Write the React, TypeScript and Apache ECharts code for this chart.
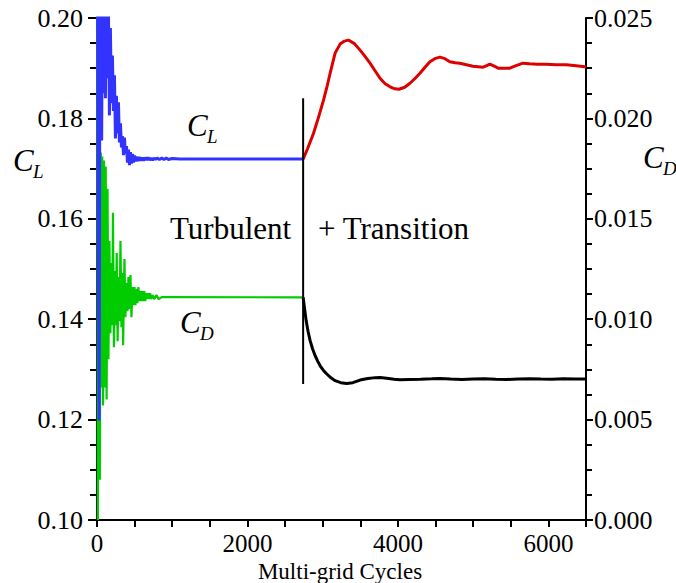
import React, { useEffect, useRef } from "react";
import * as echarts from "echarts";

// ---- Data ----
const clTurbCycles = [0, 15, 28, 40, 52, 62, 75, 88, 100, 112, 125, 138, 150, 165, 178, 192, 205, 218, 232, 245, 258, 272, 285, 298, 312, 325, 338, 352, 365, 378, 392, 405, 418, 432, 445, 458, 472, 485, 498, 512, 525, 540, 560, 580, 600, 620, 640, 660, 680, 700, 720, 740, 760, 780, 800, 830, 860, 890, 920, 950, 1000, 1100, 1400, 2000, 2740];
const clTurbValues = [0.25, 0.16, 0.1198, 0.21, 0.23, 0.1756, 0.22, 0.185, 0.215, 0.184, 0.212, 0.188, 0.205, 0.1806, 0.198, 0.183, 0.1925, 0.1815, 0.1886, 0.176, 0.1845, 0.177, 0.1832, 0.1752, 0.179, 0.1742, 0.1765, 0.1727, 0.1762, 0.173, 0.1745, 0.1712, 0.1738, 0.1707, 0.1733, 0.171, 0.1729, 0.1712, 0.1726, 0.1714, 0.1724, 0.1715, 0.1723, 0.1716, 0.1722, 0.1716, 0.1722, 0.1717, 0.1722, 0.1717, 0.1721, 0.1717, 0.1721, 0.1718, 0.1721, 0.1718, 0.1721, 0.1718, 0.1721, 0.1718, 0.172, 0.1719, 0.1719, 0.1719, 0.1719];

const clTransCycles = [2740, 2800, 2877, 2940, 3010, 3060, 3099, 3165, 3231, 3290, 3342, 3420, 3497, 3560, 3629, 3700, 3762, 3830, 3895, 3960, 4014, 4090, 4160, 4230, 4293, 4360, 4425, 4490, 4558, 4625, 4690, 4760, 4823, 4910, 4997, 5065, 5133, 5180, 5222, 5280, 5332, 5410, 5487, 5570, 5664, 5750, 5850, 5974, 6100, 6240, 6370, 6482, 6500];
const clTransValues = [0.1719, 0.174, 0.177, 0.18, 0.1836, 0.1865, 0.189, 0.193, 0.1948, 0.1954, 0.1956, 0.1949, 0.1936, 0.1924, 0.191, 0.1894, 0.188, 0.1869, 0.1863, 0.1859, 0.1858, 0.1862, 0.187, 0.188, 0.189, 0.1902, 0.1913, 0.1919, 0.1922, 0.1919, 0.1913, 0.1911, 0.191, 0.1907, 0.1904, 0.1903, 0.1902, 0.1905, 0.1908, 0.1904, 0.19, 0.19, 0.19, 0.1905, 0.191, 0.1909, 0.1908, 0.1908, 0.1907, 0.1907, 0.1905, 0.1903, 0.1902];

const cdTurbCycles = [0, 12, 25, 38, 50, 60, 70, 80, 92, 104, 116, 128, 140, 152, 165, 178, 191, 204, 212, 225, 238, 250, 262, 274, 287, 299, 312, 325, 337, 347, 365, 378, 392, 405, 418, 431, 445, 458, 472, 485, 498, 511, 524, 537, 550, 563, 576, 589, 602, 615, 628, 641, 654, 667, 680, 693, 706, 719, 740, 760, 790, 820, 860, 900, 2740];
const cdTurbValues = [0.027, 0.0, 0.027, 0.002, 0.0183, 0.0066, 0.0181, 0.0057, 0.0179, 0.0066, 0.0176, 0.006, 0.0165, 0.008, 0.0139, 0.0093, 0.0128, 0.0097, 0.0153, 0.0086, 0.0124, 0.0097, 0.0133, 0.0089, 0.0121, 0.0099, 0.0139, 0.0096, 0.0123, 0.0087, 0.013, 0.0101, 0.0118, 0.0104, 0.0121, 0.0105, 0.0122, 0.0101, 0.0116, 0.0107, 0.0116, 0.0107, 0.0115, 0.0108, 0.0116, 0.0109, 0.0114, 0.0109, 0.0114, 0.0109, 0.0114, 0.0109, 0.0113, 0.011, 0.0113, 0.011, 0.0113, 0.011, 0.0112, 0.011, 0.0112, 0.011, 0.0111, 0.0111, 0.01109];

const cdTransCycles = [2740, 2760, 2780, 2805, 2833, 2865, 2900, 2935, 2966, 3010, 3055, 3110, 3165, 3240, 3320, 3400, 3497, 3600, 3700, 3762, 3850, 3950, 4027, 4150, 4300, 4450, 4558, 4700, 4850, 5000, 5150, 5300, 5450, 5600, 5750, 5900, 6050, 6200, 6350, 6500];
const cdTransValues = [0.01109, 0.0105, 0.00993, 0.0094, 0.00893, 0.00853, 0.00818, 0.0079, 0.00768, 0.00745, 0.00727, 0.00708, 0.00694, 0.00684, 0.0068, 0.00684, 0.00697, 0.00705, 0.00709, 0.0071, 0.00706, 0.00701, 0.00699, 0.007, 0.00701, 0.00703, 0.00705, 0.00702, 0.007, 0.00702, 0.00703, 0.00701, 0.007, 0.00702, 0.00704, 0.00702, 0.00701, 0.00703, 0.00702, 0.00702];

const transitionCycle = 2740;
const dividerCL = [0.184, 0.1271];

const xTickLabels = [0, 2000, 4000, 6000];
const xAxisTitle = "Multi-grid Cycles";

const FAMILY = "Liberation Serif";

const zip = (xs: number[], ys: number[]) => xs.map((x, i) => [x, ys[i]]);

function textEl(x: number, y: number, text: string, size: number, italic: boolean, align = "left") {
  return {
    type: "text",
    x,
    y,
    style: {
      text,
      fill: "#000",
      fontFamily: FAMILY,
      fontSize: size,
      fontStyle: italic ? "italic" : "normal",
      textAlign: align,
      textVerticalAlign: "middle",
      align,
      verticalAlign: "middle",
    },
  };
}

function subLabel(x: number, y: number, main: string, sub: string) {
  return {
    type: "group",
    children: [textEl(x, y, main, 31, true), textEl(x + 20, y + 11, sub, 19, true)],
  };
}

export default function App() {
  const ref = useRef<HTMLDivElement>(null);
  useEffect(() => {
    if (!ref.current) return;
    const chart = echarts.init(ref.current, undefined, { renderer: "svg" });
    const axisLineStyle = { color: "#000", width: 2 };
    const labelBase = { color: "#000", fontFamily: FAMILY, fontSize: 26 };
    chart.setOption({
      animation: false,
      backgroundColor: "#fff",
      grid: { left: 97, right: 90, top: 18, bottom: 63, outerBoundsMode: "none", containLabel: false },
      xAxis: {
        type: "value",
        min: 0,
        max: 6500,
        interval: 500,
        axisLine: { show: true, lineStyle: axisLineStyle },
        axisTick: { show: true, length: 7, lineStyle: axisLineStyle },
        splitLine: { show: false },
        axisLabel: {
          ...labelBase,
          fontSize: 25,
          margin: 11,
          formatter: (v: number) => (xTickLabels.includes(v) ? String(v) : ""),
        },
      },
      yAxis: [
        {
          type: "value",
          position: "left",
          min: 0.1,
          max: 0.2,
          interval: 0.02,
          axisLine: { show: true, lineStyle: axisLineStyle },
          axisTick: { show: true, length: 9, lineStyle: axisLineStyle },
          minorTick: { show: true, splitNumber: 4, length: 7, lineStyle: axisLineStyle },
          splitLine: { show: false },
          axisLabel: {
            ...labelBase,
            margin: 14,
            formatter: (v: number) => v.toFixed(2),
          },
        },
        {
          type: "value",
          position: "right",
          min: 0,
          max: 0.025,
          interval: 0.005,
          axisLine: { show: true, lineStyle: axisLineStyle },
          axisTick: { show: true, length: 7, lineStyle: axisLineStyle },
          minorTick: { show: true, splitNumber: 4, length: 6, lineStyle: axisLineStyle },
          splitLine: { show: false },
          axisLabel: {
            ...labelBase,
            margin: 8,
            formatter: (v: number) => v.toFixed(3),
          },
        },
      ],
      series: [
        {
          type: "line",
          yAxisIndex: 1,
          data: zip(cdTurbCycles, cdTurbValues),
          showSymbol: false,
          lineStyle: { color: "#00cc00", width: 2.2 },
          z: 2,
        },
        {
          type: "line",
          yAxisIndex: 0,
          data: zip(clTurbCycles, clTurbValues),
          showSymbol: false,
          lineStyle: { color: "#3333ff", width: 3 },
          z: 3,
        },
        {
          type: "line",
          yAxisIndex: 0,
          data: zip(clTransCycles, clTransValues),
          showSymbol: false,
          lineStyle: { color: "#dd0000", width: 3 },
          z: 3,
        },
        {
          type: "line",
          yAxisIndex: 1,
          data: zip(cdTransCycles, cdTransValues),
          showSymbol: false,
          lineStyle: { color: "#000", width: 3 },
          z: 3,
        },
        {
          type: "line",
          yAxisIndex: 0,
          data: [
            [transitionCycle, dividerCL[0]],
            [transitionCycle, dividerCL[1]],
          ],
          showSymbol: false,
          lineStyle: { color: "#000", width: 2 },
          z: 4,
        },
      ],
      graphic: [
        textEl(170, 228, "Turbulent", 31, false),
        textEl(318, 228, "+ Transition", 31, false),
        textEl(340, 571, xAxisTitle, 23, false, "center"),
        subLabel(13, 160, "C", "L"),
        subLabel(643, 157, "C", "D"),
        subLabel(187, 125, "C", "L"),
        subLabel(180, 322, "C", "D"),
      ],
    });
    return () => chart.dispose();
  }, []);
  return (
    <div
      ref={ref}
      style={{ position: "absolute", left: 0, top: 0, width: 676, height: 583 }}
    />
  );
}
